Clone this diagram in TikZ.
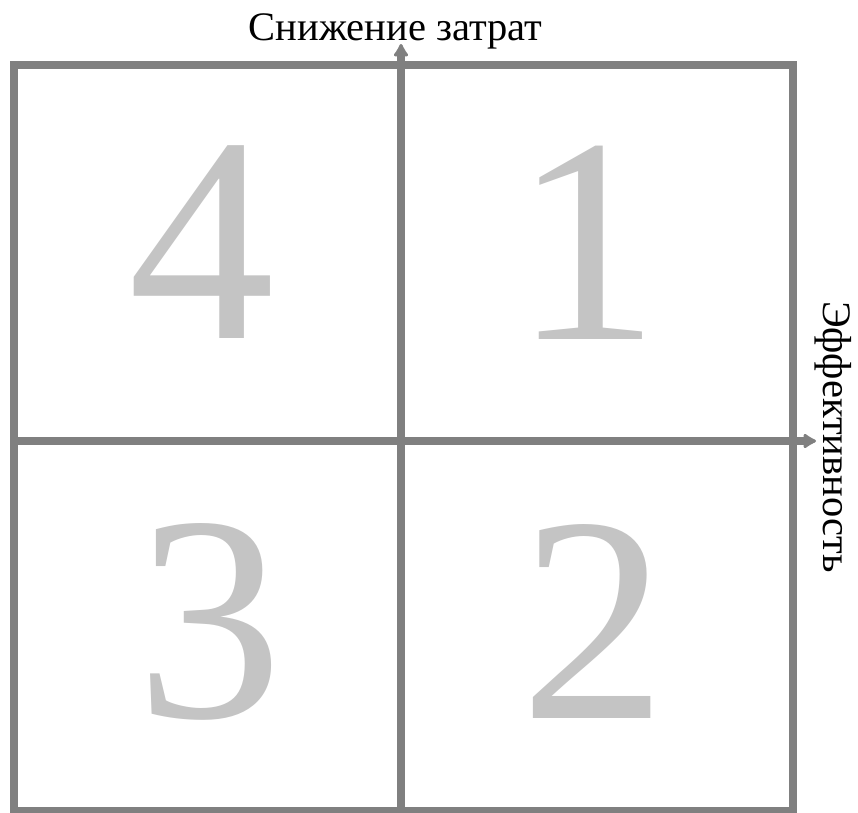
\documentclass[tikz,border=0pt]{standalone}
\usepackage{fontspec}
\setmainfont{Liberation Serif}
\usetikzlibrary{arrows.meta}
\definecolor{framegray}{HTML}{808080}
\definecolor{digitgray}{HTML}{C4C4C4}
\tikzset{
  frameline/.style={draw=framegray, line width=8pt},
  axisarrow/.style={frameline, -{Latex[length=15pt,width=18pt,round]}},
  digit/.style={text=digitgray, font=\fontsize{293}{293}\selectfont, inner sep=0pt, anchor=center},
  label/.style={text=black, font=\fontsize{40.5}{44}\selectfont, inner sep=0pt, anchor=base}
}
\begin{document}
\begin{tikzpicture}[x=1pt,y=-1pt]
\useasboundingbox (0,0) rectangle (858,812);
\coordinate (tl) at (14,65);
\coordinate (br) at (793,811);
\coordinate (vb) at (401,811);
\coordinate (vt) at (401,44);
\coordinate (hl) at (14,441);
\coordinate (hr) at (816,441);
\draw[frameline] (tl) rectangle (br);
\draw[axisarrow] (vb) -- (vt);
\draw[axisarrow] (hl) -- (hr);
\node[digit] (d4) at (202,242.5) {4};
\node[digit] (d1) at (587,242.5) {1};
\node[digit] (d3) at (210,622) {3};
\node[digit] (d2) at (594,621) {2};
\node[label] (ytitle) at (395.5,40) {Снижение затрат};
\node[label, rotate=-90] (xtitle) at (823,437) {Эффективность};
\end{tikzpicture}
\end{document}
